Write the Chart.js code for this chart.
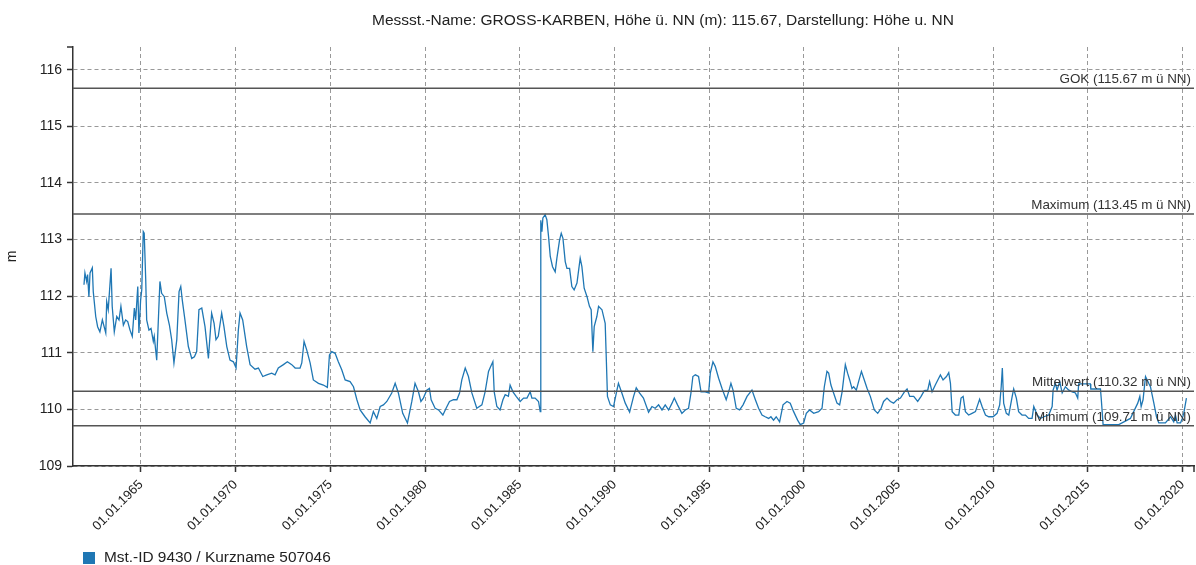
<!DOCTYPE html>
<html>
<head>
<meta charset="utf-8">
<script src="https://cdn.jsdelivr.net/npm/chart.js@4/dist/chart.umd.min.js"></script>
<style>
  body { margin: 0; background: #fff; }
</style>
</head>
<body>
<canvas id="myChart" width="1196" height="565"></canvas>
<script>
// Grundwasserstand Messstelle GROSS-KARBEN
const titel = 'Messst.-Name: GROSS-KARBEN, Höhe ü. NN (m): 115.67, Darstellung: Höhe u. NN';
const legendeText = 'Mst.-ID 9430 / Kurzname 507046';

// [Jahr (dezimal), Höhe in m ü NN]
const messwerte = [
  [1961.99,112.20],[1962.04,112.41],[1962.13,112.26],[1962.18,112.38],[1962.25,111.99],[1962.31,112.41],
  [1962.43,112.50],[1962.48,112.08],[1962.61,111.64],[1962.71,111.46],[1962.83,111.37],[1962.96,111.58],
  [1963.14,111.35],[1963.19,111.90],[1963.27,111.76],[1963.42,112.49],[1963.48,111.82],[1963.59,111.37],
  [1963.72,111.64],[1963.84,111.58],[1963.94,111.82],[1964.07,111.49],[1964.19,111.58],[1964.30,111.55],
  [1964.42,111.40],[1964.54,111.29],[1964.65,111.79],[1964.72,111.58],[1964.83,112.17],[1964.89,111.35],
  [1964.98,111.93],[1965.04,112.11],[1965.12,113.14],[1965.17,113.11],[1965.25,112.29],[1965.30,111.58],
  [1965.42,111.40],[1965.53,111.43],[1965.65,111.20],[1965.70,111.29],[1965.83,110.87],[1965.91,111.52],
  [1966.00,112.26],[1966.09,112.05],[1966.23,111.99],[1966.36,111.70],[1966.50,111.49],[1966.62,111.23],
  [1966.74,110.82],[1966.89,111.23],[1967.01,112.08],[1967.10,112.17],[1967.18,111.93],[1967.32,111.58],
  [1967.50,111.11],[1967.68,110.90],[1967.82,110.93],[1967.94,111.02],[1968.06,111.76],[1968.21,111.79],
  [1968.38,111.46],[1968.56,110.90],[1968.73,111.70],[1968.86,111.52],[1968.96,111.23],[1969.08,111.29],
  [1969.26,111.70],[1969.38,111.46],[1969.53,111.11],[1969.70,110.87],[1969.88,110.84],[1970.02,110.73],
  [1970.14,111.40],[1970.23,111.70],[1970.37,111.58],[1970.58,111.11],[1970.76,110.79],[1971.02,110.71],
  [1971.20,110.73],[1971.43,110.58],[1971.64,110.61],[1971.90,110.64],[1972.08,110.61],[1972.25,110.73],
  [1972.52,110.79],[1972.73,110.84],[1972.96,110.79],[1973.14,110.73],[1973.40,110.73],[1973.49,110.82],
  [1973.61,111.20],[1973.75,111.05],[1973.93,110.82],[1974.10,110.52],[1974.37,110.46],[1974.63,110.43],
  [1974.84,110.39],[1974.95,110.96],[1975.07,111.02],[1975.25,110.99],[1975.42,110.84],[1975.60,110.70],
  [1975.78,110.52],[1976.04,110.49],[1976.22,110.40],[1976.40,110.17],[1976.57,109.99],[1976.83,109.87],
  [1977.10,109.76],[1977.27,109.96],[1977.45,109.84],[1977.63,110.05],[1977.80,110.08],[1977.98,110.14],
  [1978.24,110.29],[1978.42,110.46],[1978.59,110.29],[1978.82,109.93],[1979.07,109.76],[1979.30,110.14],
  [1979.47,110.46],[1979.65,110.31],[1979.78,110.14],[1979.91,110.20],[1980.09,110.34],[1980.23,110.37],
  [1980.32,110.17],[1980.53,110.02],[1980.71,109.99],[1980.94,109.90],[1981.11,110.02],[1981.29,110.14],
  [1981.50,110.17],[1981.68,110.17],[1981.82,110.29],[1981.94,110.52],[1982.12,110.73],[1982.29,110.58],
  [1982.47,110.29],[1982.73,110.02],[1983.00,110.08],[1983.17,110.31],[1983.35,110.67],[1983.47,110.76],
  [1983.58,110.84],[1983.65,110.31],[1983.79,110.05],[1983.96,109.99],[1984.11,110.17],[1984.23,110.26],
  [1984.40,110.23],[1984.49,110.43],[1984.64,110.31],[1984.81,110.23],[1985.02,110.14],[1985.20,110.20],
  [1985.38,110.20],[1985.55,110.31],[1985.64,110.20],[1985.81,110.20],[1985.99,110.14],[1986.08,109.96],
  [1986.11,113.34],[1986.17,113.14],[1986.22,113.38],[1986.34,113.44],[1986.43,113.35],[1986.52,113.05],
  [1986.61,112.70],[1986.73,112.52],[1986.87,112.43],[1986.96,112.67],[1987.10,112.99],[1987.19,113.11],
  [1987.28,113.02],[1987.40,112.61],[1987.49,112.49],[1987.63,112.49],[1987.75,112.17],[1987.87,112.11],
  [1988.02,112.23],[1988.19,112.67],[1988.28,112.52],[1988.40,112.14],[1988.55,111.99],[1988.68,111.82],
  [1988.77,111.76],[1988.86,111.02],[1988.93,111.46],[1989.07,111.64],[1989.16,111.82],[1989.34,111.76],
  [1989.51,111.52],[1989.56,110.99],[1989.63,110.23],[1989.78,110.08],[1989.95,110.05],[1990.13,110.34],
  [1990.21,110.46],[1990.39,110.29],[1990.57,110.11],[1990.80,109.95],[1991.01,110.23],[1991.15,110.38],
  [1991.32,110.29],[1991.53,110.20],[1991.80,109.95],[1991.98,110.05],[1992.15,110.02],[1992.33,110.08],
  [1992.51,109.99],[1992.68,110.08],[1992.86,109.99],[1993.04,110.11],[1993.16,110.20],[1993.33,110.08],
  [1993.56,109.93],[1993.74,109.99],[1993.91,110.02],[1994.04,110.29],[1994.14,110.58],[1994.27,110.61],
  [1994.44,110.58],[1994.57,110.31],[1994.79,110.31],[1994.97,110.29],[1995.06,110.64],[1995.20,110.84],
  [1995.32,110.76],[1995.50,110.55],[1995.68,110.37],[1995.90,110.17],[1996.08,110.37],[1996.15,110.46],
  [1996.26,110.34],[1996.43,110.02],[1996.61,109.99],[1996.79,110.08],[1997.00,110.23],[1997.26,110.34],
  [1997.44,110.17],[1997.61,110.02],[1997.79,109.90],[1997.96,109.87],[1998.14,109.84],[1998.26,109.87],
  [1998.40,109.81],[1998.54,109.87],[1998.72,109.78],[1998.90,110.08],[1999.11,110.14],[1999.28,110.11],
  [1999.46,109.96],[1999.67,109.81],[1999.81,109.73],[1999.99,109.76],[2000.13,109.93],[2000.30,109.99],
  [2000.52,109.93],[2000.78,109.96],[2000.96,110.02],[2001.08,110.40],[2001.22,110.67],[2001.31,110.64],
  [2001.43,110.43],[2001.57,110.29],[2001.75,110.11],[2001.89,110.08],[2002.02,110.31],[2002.19,110.79],
  [2002.31,110.64],[2002.42,110.52],[2002.54,110.37],[2002.63,110.40],[2002.77,110.34],[2002.89,110.49],
  [2003.04,110.67],[2003.16,110.55],[2003.34,110.37],[2003.51,110.23],[2003.72,109.99],[2003.90,109.93],
  [2004.08,110.02],[2004.21,110.14],[2004.39,110.20],[2004.57,110.14],[2004.74,110.11],[2004.92,110.17],
  [2005.10,110.20],[2005.31,110.31],[2005.45,110.36],[2005.59,110.23],[2005.80,110.23],[2006.01,110.14],
  [2006.19,110.23],[2006.36,110.33],[2006.54,110.34],[2006.64,110.49],[2006.77,110.31],[2006.94,110.43],
  [2007.12,110.55],[2007.21,110.61],[2007.35,110.52],[2007.53,110.58],[2007.65,110.65],[2007.74,110.46],
  [2007.83,109.96],[2008.00,109.90],[2008.18,109.90],[2008.30,110.20],[2008.41,110.23],[2008.53,109.96],
  [2008.70,109.90],[2008.88,109.93],[2009.06,109.96],[2009.18,110.08],[2009.28,110.18],[2009.41,110.05],
  [2009.59,109.90],[2009.76,109.87],[2009.99,109.87],[2010.20,109.93],[2010.34,110.08],[2010.42,110.40],
  [2010.48,110.73],[2010.55,110.11],[2010.69,109.93],[2010.82,109.90],[2011.00,110.23],[2011.08,110.36],
  [2011.22,110.20],[2011.34,109.96],[2011.52,109.90],[2011.70,109.90],[2011.87,109.84],[2012.05,109.84],
  [2012.14,110.05],[2012.32,109.90],[2012.49,109.84],[2012.67,109.87],[2012.93,109.90],[2013.11,110.05],
  [2013.16,110.34],[2013.28,110.46],[2013.37,110.34],[2013.51,110.49],[2013.64,110.29],[2013.81,110.40],
  [2013.99,110.34],[2014.17,110.31],[2014.34,110.29],[2014.46,110.20],[2014.51,110.45],[2015.13,110.45],
  [2015.15,110.36],[2015.66,110.36],[2015.70,110.20],[2015.80,109.73],[2016.63,109.73],[2017.24,109.84],
  [2017.63,110.11],[2017.74,110.23],[2017.81,110.05],[2017.91,110.17],[2018.04,110.58],[2018.13,110.52],
  [2018.21,110.46],[2018.30,110.40],[2018.48,110.11],[2018.62,109.87],[2018.74,109.76],[2019.09,109.76],
  [2019.36,109.87],[2019.53,109.78],[2019.62,109.90],[2019.71,109.76],[2019.89,109.76],[2019.98,109.84],
  [2020.06,109.93],[2020.20,110.20]
];

// Kennwerte (waagerechte Linien)
const refNamen = ['GOK', 'Maximum', 'Mittelwert', 'Minimum'];
const refWerte = [115.67, 113.45, 110.32, 109.71];

// Achsen
const xTicks = [1965, 1970, 1975, 1980, 1985, 1990, 1995, 2000, 2005, 2010, 2015, 2020];
const yTicks = [109, 110, 111, 112, 113, 114, 115, 116];
const xMin = 1961.41, xMax = 2020.6;
const yMin = 109, yMax = 116.4;

const blau = '#1f77b4';
const fontFam = '"Liberation Sans", Arial, sans-serif';
Chart.defaults.font.family = fontFam;
Chart.defaults.color = '#222';

const datasets = refWerte.map((v, i) => ({
  label: refNamen[i],
  data: [{x: xMin, y: v}, {x: xMax, y: v}],
  borderColor: '#555',
  borderWidth: 1.5,
  pointRadius: 0
}));
datasets.push({
  label: legendeText,
  data: messwerte.map(p => ({x: p[0], y: p[1]})),
  borderColor: blau,
  backgroundColor: blau,
  borderWidth: 1.3,
  pointRadius: 0,
  tension: 0
});

// Titel, Legende, Beschriftung der Kennlinien, Achsenenden
const extras = {
  id: 'extras',
  afterDraw(chart) {
    const {ctx, chartArea: a, scales: {x, y}} = chart;
    ctx.save();
    ctx.fillStyle = '#222';
    ctx.font = '15.5px ' + fontFam;
    ctx.textAlign = 'center';
    ctx.textBaseline = 'middle';
    ctx.fillText(titel, 663, 21);

    ctx.font = '13.4px ' + fontFam;
    ctx.fillStyle = '#333';
    ctx.textAlign = 'right';
    ctx.textBaseline = 'alphabetic';
    refWerte.forEach((v, i) => {
      ctx.fillText(refNamen[i] + ' (' + v.toFixed(2) + ' m ü NN)', a.right - 3, y.getPixelForValue(v) - 5);
    });

    // Legende
    ctx.fillStyle = blau;
    ctx.fillRect(83, 552, 12, 12);
    ctx.fillStyle = '#222';
    ctx.font = '15.4px ' + fontFam;
    ctx.textAlign = 'left';
    ctx.textBaseline = 'middle';
    ctx.fillText(legendeText, 104, 558);

    // kleine Striche an den Achsenenden
    ctx.strokeStyle = '#333';
    ctx.lineWidth = 1.5;
    ctx.beginPath();
    ctx.moveTo(a.left - 6, a.top); ctx.lineTo(a.left, a.top);
    ctx.moveTo(a.right, a.bottom); ctx.lineTo(a.right, a.bottom + 6);
    ctx.stroke();
    ctx.restore();
  }
};

const ctx = document.getElementById('myChart');
new Chart(ctx, {
  type: 'line',
  data: { datasets: datasets },
  plugins: [extras],
  options: {
    responsive: false,
    animation: false,
    layout: { padding: { top: 47, right: 2, left: 0, bottom: 0 } },
    plugins: {
      legend: { display: false },
      title: { display: false },
      tooltip: { enabled: false }
    },
    scales: {
      x: {
        type: 'linear',
        min: xMin,
        max: xMax,
        afterBuildTicks: s => { s.ticks = xTicks.map(v => ({value: v})); },
        afterFit: s => { s.height = 99; s.paddingLeft = 0; s.paddingRight = 0; },
        ticks: {
          autoSkip: false,
          minRotation: 45,
          maxRotation: 45,
          padding: 5,
          color: '#222',
          font: { size: 13 },
          callback: v => '01.01.' + v
        },
        grid: { color: '#999', lineWidth: 1, tickColor: '#333', tickLength: 6, tickWidth: 1.5, tickBorderDash: [] },
        border: { display: true, color: '#333', width: 1.5, dash: [4, 3] }
      },
      y: {
        type: 'linear',
        min: yMin,
        max: yMax,
        afterBuildTicks: s => { s.ticks = yTicks.map(v => ({value: v})); },
        afterFit: s => { s.width = 73; s.paddingTop = 0; s.paddingBottom = 0; },
        ticks: { padding: 5, color: '#222', font: { size: 14 } },
        title: { display: true, text: 'm', color: '#222', font: { size: 14 }, padding: { top: 4, bottom: 0 } },
        grid: { color: '#999', lineWidth: 1, tickColor: '#333', tickLength: 6, tickWidth: 1.5, tickBorderDash: [] },
        border: { display: true, color: '#333', width: 1.5, dash: [4, 3] }
      }
    }
  }
});
</script>
</body>
</html>
